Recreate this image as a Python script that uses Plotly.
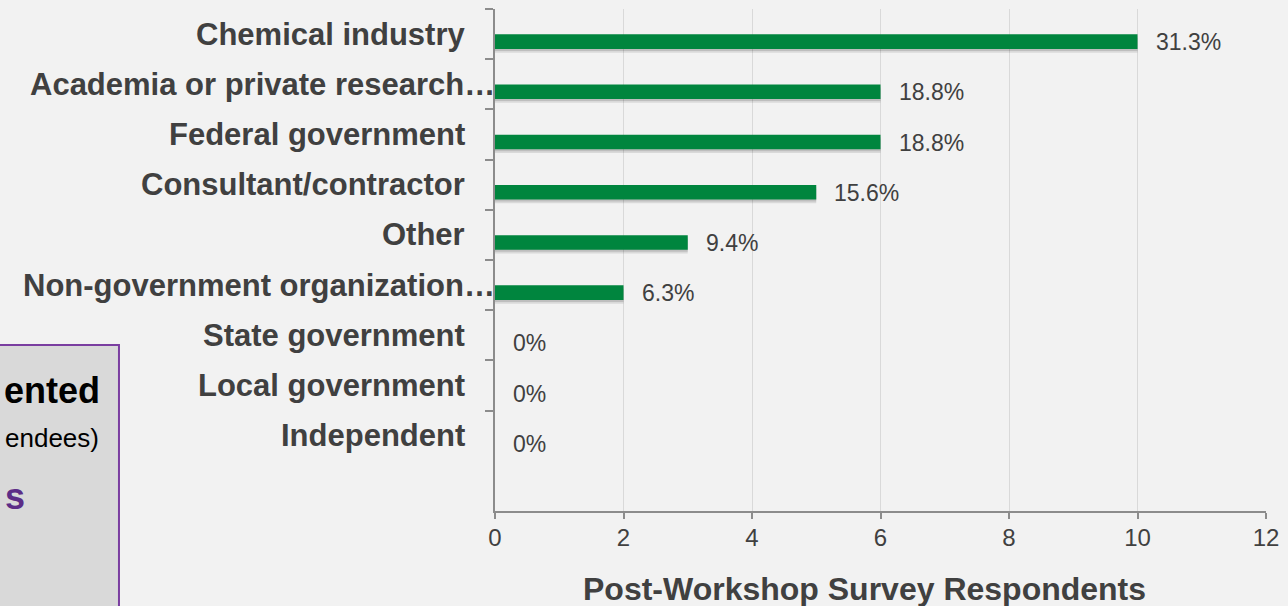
import plotly.graph_objects as go

# ---------------- data ----------------
categories = [
    "Chemical industry",
    "Academia or private research…",
    "Federal government",
    "Consultant/contractor",
    "Other",
    "Non-government organization…",
    "State government",
    "Local government",
    "Independent",
]
respondents = [10, 6, 6, 5, 3, 2, 0, 0, 0]
pct_labels = ["31.3%", "18.8%", "18.8%", "15.6%", "9.4%", "6.3%", "0%", "0%", "0%"]
x_ticks = [0, 2, 4, 6, 8, 10, 12]
x_title = "Post-Workshop Survey Respondents"
box_texts = ["ented", "endees)", "s"]

# ---------------- layout geometry ----------------
W, H = 1288, 606
ML, MR, MT, MB = 495, 20, 9, 95
PW = W - ML - MR
PH = H - MT - MB


def px(x):
    return (x - ML) / PW


def py(y):
    return (H - MB - y) / PH


FONT = "Liberation Sans, Arial, sans-serif"
GREEN = "#00853E"
TXT = "#404040"

fig = go.Figure()

# soft drop shadow under the bars
fig.add_trace(go.Bar(
    x=respondents, y=categories, orientation="h",
    offset=0.08, width=0.29,
    marker=dict(color="rgba(0,0,0,0.10)", line=dict(width=0)),
    hoverinfo="skip", showlegend=False,
))
fig.add_trace(go.Bar(
    x=respondents, y=categories, orientation="h",
    offset=0.045, width=0.29,
    marker=dict(color="rgba(0,0,0,0.12)", line=dict(width=0)),
    hoverinfo="skip", showlegend=False,
))
fig.add_trace(go.Bar(
    x=respondents, y=categories, orientation="h",
    offset=0.005, width=0.29,
    marker=dict(color=GREEN, line=dict(width=0)),
    showlegend=False,
))

annotations = []
# category labels
for c in categories:
    right = 497 if c.endswith("…") else 467
    annotations.append(dict(
        x=px(right), xref="paper", y=c, yref="y",
        xanchor="right", yanchor="middle", showarrow=False,
        text="<b>" + c + "</b>", font=dict(family=FONT, size=31, color=TXT),
    ))
# value labels
for c, v, t in zip(categories, respondents, pct_labels):
    annotations.append(dict(
        x=v, xref="x", y=c, yref="y",
        xanchor="left", yanchor="middle", showarrow=False,
        xshift=16, yshift=-8,
        text=t, font=dict(family=FONT, size=23, color=TXT),
    ))
# axis title
annotations.append(dict(
    x=px(865), xref="paper", y=py(589), yref="paper",
    xanchor="center", yanchor="middle", showarrow=False,
    text="<b>" + x_title + "</b>", font=dict(family=FONT, size=32, color=TXT),
))
# partially visible slide box text
annotations.append(dict(
    x=px(101), xref="paper", y=py(390), yref="paper",
    xanchor="right", yanchor="middle", showarrow=False,
    text="<b>" + box_texts[0] + "</b>", font=dict(family=FONT, size=36, color="#000000"),
))
annotations.append(dict(
    x=px(100), xref="paper", y=py(438), yref="paper",
    xanchor="right", yanchor="middle", showarrow=False,
    text=box_texts[1], font=dict(family=FONT, size=26, color="#000000"),
))
annotations.append(dict(
    x=px(2), xref="paper", y=py(496), yref="paper",
    xanchor="left", yanchor="middle", showarrow=False,
    text="<b>" + box_texts[2] + "</b>", font=dict(family=FONT, size=36, color="#5C2D87"),
))

fig.update_layout(
    width=W, height=H,
    margin=dict(l=ML, r=MR, t=MT, b=MB, pad=0),
    paper_bgcolor="#F2F2F2", plot_bgcolor="#F2F2F2",
    barmode="overlay",
    font=dict(family=FONT, color=TXT),
    annotations=annotations,
    shapes=[dict(
        type="rect", xref="paper", yref="paper",
        x0=px(-20), x1=px(118), y0=py(640), y1=py(345),
        line=dict(color="#7A3EA0", width=2), fillcolor="#D9D9D9",
        layer="below",
    )],
    xaxis=dict(
        range=[0, 12], tickvals=x_ticks, ticktext=[str(t) for t in x_ticks],
        showgrid=True, gridcolor="#D9D9D9", gridwidth=1,
        zeroline=False, showline=True, linecolor="#8C8C8C", linewidth=1.5,
        ticks="outside", ticklen=6, tickcolor="#8C8C8C", tickwidth=1.5,
        tickfont=dict(family=FONT, size=24, color=TXT),
        ticklabelstandoff=-2,
    ),
    yaxis=dict(
        type="category", categoryorder="array", categoryarray=categories,
        range=[9.5, -0.5],
        showticklabels=False, showgrid=False, zeroline=False,
        showline=True, linecolor="#8C8C8C", linewidth=1.5,
        ticks="outside", ticklen=8, tickcolor="#8C8C8C", tickwidth=1.5,
        tickson="boundaries",
    ),
)

fig.write_html("out.html")
